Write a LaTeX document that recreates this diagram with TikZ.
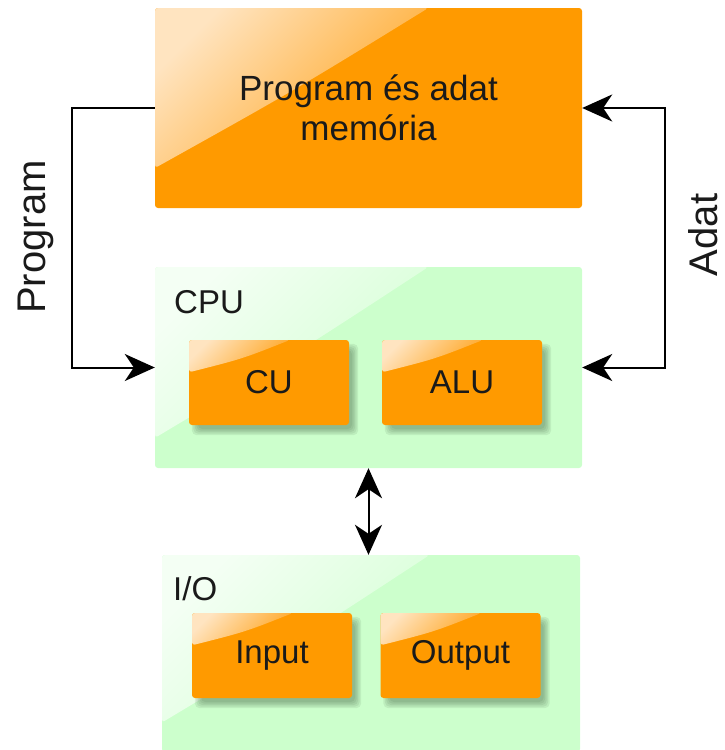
\documentclass[tikz,border=0pt]{standalone}
\usepackage{fontspec}
\setmainfont{Liberation Sans}
\usetikzlibrary{arrows.meta,calc}

\pgfdeclarelayer{panel}
\pgfdeclarelayer{shade}
\pgfsetlayers{panel,shade,main}

\definecolor{unitorange}{HTML}{FF9A00}
\definecolor{sheenorange}{HTML}{FFE4C0}
\definecolor{sheenorangeedge}{HTML}{FFA41E}
\definecolor{panelgreen}{HTML}{CCFFCC}
\definecolor{sheengreen}{HTML}{F4FFF4}
\definecolor{sheengreenedge}{HTML}{D3FFD3}
\definecolor{shadowgreen}{HTML}{3F5F3F}
\definecolor{inktext}{HTML}{1A1A1A}

\tikzset{
  % glossy highlight in the upper left part of a box
  sheen/.style n args={5}{path picture={
    \coordinate (sa) at (path picture bounding box.north west);
    \coordinate (sb) at ($(path picture bounding box.north west)!#1!(path picture bounding box.north east)$);
    \coordinate (sc) at ($(path picture bounding box.north west)!#2!(path picture bounding box.south west)$);
    \coordinate (sk) at ($(sb)!0.5!(sc)$);
    \coordinate (sk2) at ($(sk)!#3!(path picture bounding box.center)$);
    \shade[top color=#4, bottom color=#5, shading angle=45]
      (sa) -- (sb) .. controls (sk2) .. (sc) -- cycle;
  }},
  orangebox/.style={fill=unitorange, rounded corners=3pt, inner sep=0pt,
    align=center, text=inktext},
  membox/.style={orangebox, minimum width=427pt, minimum height=200pt,
    font=\fontsize{35}{40}\selectfont,
    sheen={0.64}{0.8}{0.06}{sheenorange}{sheenorangeedge}},
  unitbox/.style={orangebox, minimum width=160pt, minimum height=85pt,
    font=\fontsize{33}{38}\selectfont,
    sheen={0.63}{0.38}{0.1}{sheenorange}{sheenorangeedge}},
  groupbox/.style={fill=panelgreen, rounded corners=3pt, inner sep=0pt,
    sheen={0.64}{0.85}{0.06}{sheengreen}{sheengreenedge}},
  grouplabel/.style={anchor=base west, inner sep=0pt, text=inktext,
    font=\fontsize{33}{38}\selectfont},
  sidelabel/.style={rotate=90, anchor=base, inner sep=0pt, text=inktext,
    font=\fontsize{40}{44}\selectfont},
  link/.style={line width=2pt, draw=black,
    >={Stealth[length=30pt,width=27pt,inset=9pt]}}
}

% soft shadow below and to the right of a unit box
\newcommand\castshadow[1]{%
  \foreach \s in {-3,-1.5,0,1.5,3}{%
    \fill[shadowgreen, opacity=0.1, rounded corners=5pt]
      ($(#1.north west)+(6+\s,7+\s)$) rectangle ($(#1.south east)+(6-\s,7-\s)$);
  }}

\begin{document}
\begin{tikzpicture}[x=1pt, y=-1pt]
  \useasboundingbox (0,0) rectangle (725,750);

  % memory
  \node[membox] (mem) at (368.5,108) {Program és adat\\memória};

  % CPU and I/O panels
  \begin{pgfonlayer}{panel}
    \node[groupbox, minimum width=427pt, minimum height=201pt] (cpu) at (368.5,367.5) {};
    \node[groupbox, minimum width=418pt, minimum height=197pt] (io) at (371,653.5) {};
  \end{pgfonlayer}
  \node[grouplabel] (cpulabel) at (174,313) {CPU};
  \node[grouplabel] (iolabel) at (173,600) {I/O};

  % units
  \node[unitbox] (cu) at (269,382.5) {CU};
  \node[unitbox] (alu) at (462,382.5) {ALU};
  \node[unitbox] (in) at (272,655.5) {Input};
  \node[unitbox] (out) at (460.5,655.5) {Output};

  \begin{pgfonlayer}{shade}
    \castshadow{cu}
    \castshadow{alu}
    \castshadow{in}
    \castshadow{out}
  \end{pgfonlayer}

  % buses
  \coordinate (progbend) at (72,108);
  \coordinate (databend) at (665,108);
  \draw[link,->] (mem.west) -- (progbend) |- (cpu.west);
  \draw[link,<->] (mem.east) -- (databend) |- (cpu.east);
  \draw[link,<->] (cpu.south) -- (io.north -| cpu.south);

  \node[sidelabel] (proglabel) at (45,237) {Program};
  \node[sidelabel] (datalabel) at (717,235) {Adat};
\end{tikzpicture}
\end{document}
